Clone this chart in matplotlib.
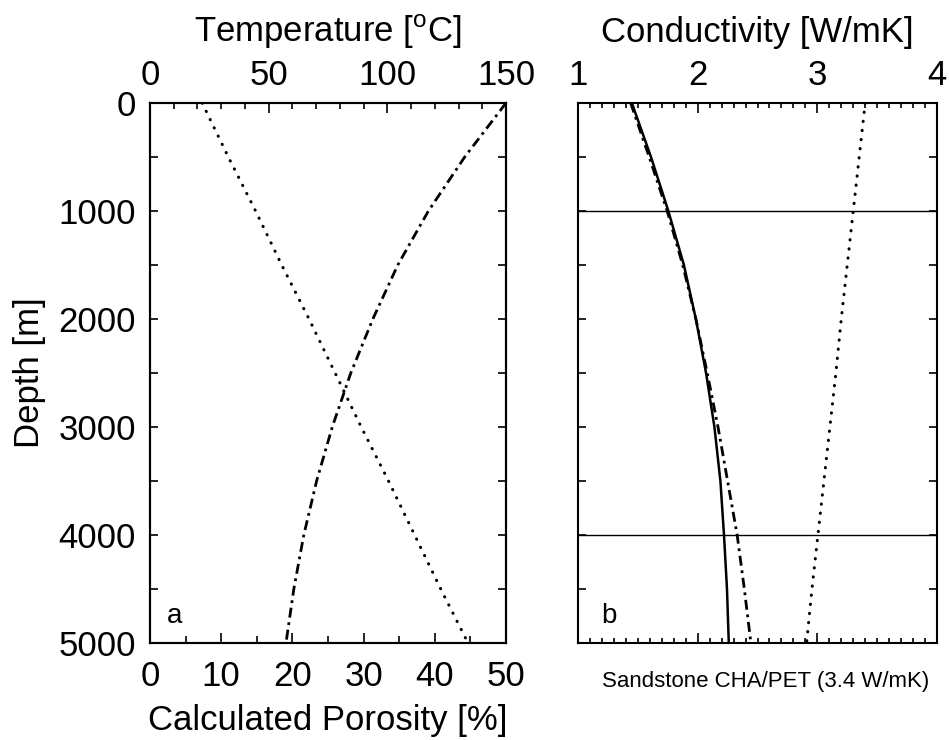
import matplotlib
matplotlib.use("Agg")
import matplotlib.pyplot as plt
from matplotlib.ticker import MultipleLocator

plt.rcParams['font.family'] = ['Liberation Sans', 'DejaVu Sans']

# ---- data ----
depth = [0, 500, 1000, 1500, 2000, 2500, 3000, 3500, 4000, 4500, 5000]
temperature = [22, 33, 44.5, 55.5, 67, 78, 89, 100.5, 111.5, 122.5, 134]
porosity = [50.0, 44.2, 39.1, 34.8, 31.3, 28.2, 25.6, 23.4, 21.6, 20.2, 19.1]
k_solid = [1.45, 1.61, 1.755, 1.885, 1.985, 2.07, 2.14, 2.19, 2.22, 2.245, 2.26]
k_dashdot = [1.44, 1.595, 1.745, 1.875, 1.985, 2.08, 2.17, 2.25, 2.33, 2.39, 2.445]
k_dotted = [3.40, 3.35, 3.30, 3.25, 3.20, 3.155, 3.105, 3.055, 3.005, 2.955, 2.91]
hlines = [1000, 4000]
temp_ticks = [0, 50, 100, 150]
por_ticks = [0, 10, 20, 30, 40, 50]
depth_ticks = [0, 1000, 2000, 3000, 4000, 5000]
k_ticks = [1, 2, 3, 4]

W, H = 949, 740
fig = plt.figure(figsize=(W / 100, H / 100), dpi=100)

def frac(x0, y0, x1, y1):
    return [x0 / W, 1 - y1 / H, (x1 - x0) / W, (y1 - y0) / H]

FS = 25
dot_style = dict(color='black', lw=2.2, linestyle=(0, (0.1, 2.9)), dash_capstyle='round')
dd_style = dict(color='black', lw=2.0, linestyle=(0, (3.6, 1.7, 1.0, 1.7)))

# ---------- panel a ----------
ax = fig.add_axes(frac(150, 103, 506, 643))
ax.set_xlim(0, 50)
ax.set_ylim(5000, 0)
ax.plot(porosity, depth, **dd_style)
ax.set_xticks(por_ticks)
ax.xaxis.set_minor_locator(MultipleLocator(5))
ax.set_yticks(depth_ticks)
ax.yaxis.set_minor_locator(MultipleLocator(500))
ax.tick_params(axis='both', which='both', direction='in', width=1.2, labelsize=FS)
ax.tick_params(axis='x', which='major', length=7, pad=12)
ax.tick_params(axis='x', which='minor', length=5)
ax.tick_params(axis='y', which='both', length=6, right=True, pad=10)
ax.set_xlabel('Calculated Porosity [%]', fontsize=FS, labelpad=8)
ax.set_ylabel('Depth [m]', fontsize=FS, labelpad=9)
ax.text(0.07, 0.05, 'a', transform=ax.transAxes, fontsize=20, ha='center', va='center')

axt = ax.twiny()
axt.set_xlim(0, 150)
axt.plot(temperature, depth, **dot_style)
axt.set_xticks(temp_ticks)
axt.xaxis.set_minor_locator(MultipleLocator(10))
axt.tick_params(axis='x', which='both', direction='in', width=1.2, labelsize=FS)
axt.tick_params(axis='x', which='major', length=7, pad=8)
axt.tick_params(axis='x', which='minor', length=4)
axt.set_xlabel('Temperature [$^\\mathregular{o}$C]', fontsize=FS, labelpad=12)
for a in (ax, axt):
    for s in a.spines.values():
        s.set_linewidth(1.5)

# ---------- panel b ----------
bx = fig.add_axes(frac(578, 103, 937, 643))
bx.set_xlim(1, 4)
bx.set_ylim(5000, 0)
for h in hlines:
    bx.axhline(h, color='black', lw=1.0)
bx.plot(k_solid, depth, color='black', lw=1.8)
bx.plot(k_dashdot, depth, **dd_style)
bx.plot(k_dotted, depth, **dot_style)
bx.set_xticks(k_ticks)
bx.xaxis.set_minor_locator(MultipleLocator(0.1))
bx.set_yticks(depth_ticks)
bx.yaxis.set_minor_locator(MultipleLocator(500))
bx.xaxis.set_label_position('top')
bx.tick_params(axis='both', which='both', direction='in', width=1.2, labelsize=FS,
               top=True, bottom=True, left=True, right=True,
               labeltop=True, labelbottom=False, labelleft=False)
bx.tick_params(axis='x', which='major', length=7, pad=8)
bx.tick_params(axis='x', which='minor', length=3.5)
bx.tick_params(axis='y', which='both', length=6)
bx.set_xlabel('Conductivity [W/mK]', fontsize=FS, labelpad=12)
bx.text(0.524, -0.072, 'Sandstone CHA/PET (3.4 W/mK)', transform=bx.transAxes,
        fontsize=16, ha='center', va='center')
bx.text(0.085, 0.05, 'b', transform=bx.transAxes, fontsize=20, ha='center', va='center')
for s in bx.spines.values():
    s.set_linewidth(1.5)

fig.savefig('out.png', dpi=100)
